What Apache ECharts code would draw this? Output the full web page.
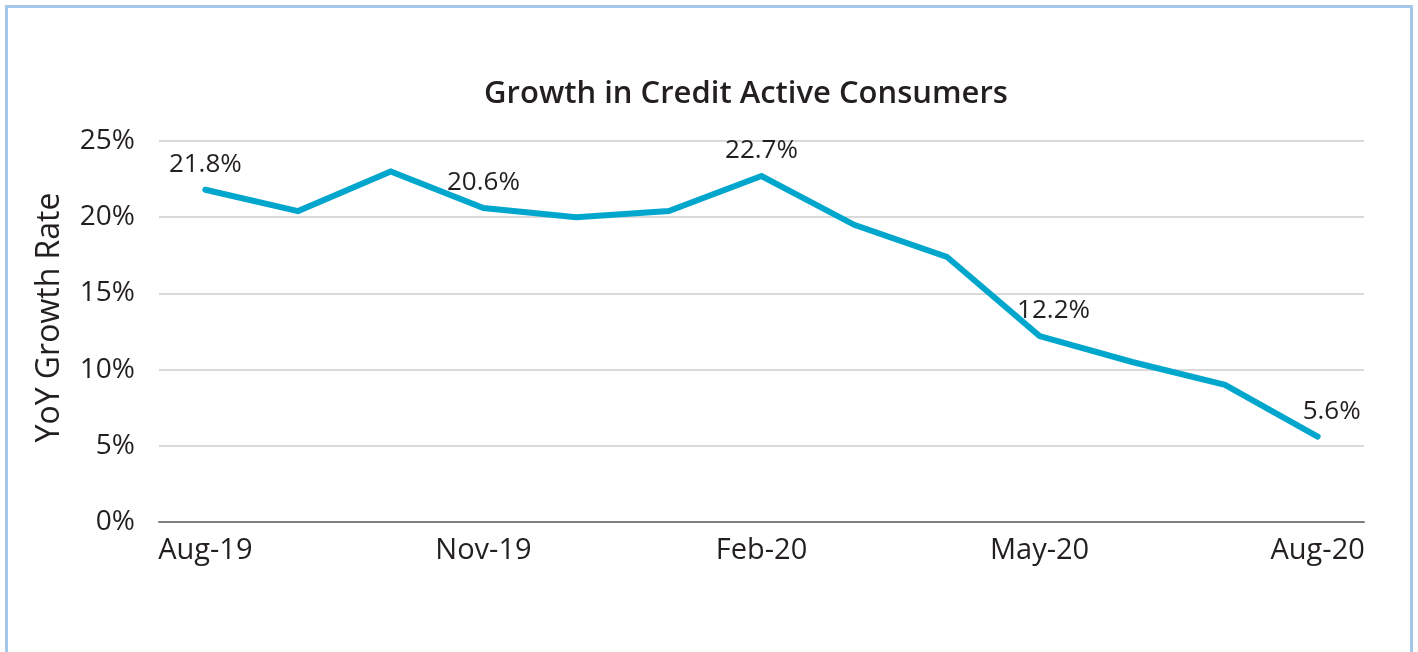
<!DOCTYPE html>
<html>
<head>
<meta charset="utf-8">
<title>Growth in Credit Active Consumers</title>
<script src="https://cdn.jsdelivr.net/npm/echarts@6/dist/echarts.min.js"></script>
<style>
  html, body { margin: 0; padding: 0; background: #ffffff; }
  #chart { width: 1418px; height: 652px; }
</style>
</head>
<body>
<div id="chart"></div>
<script>
// Monthly year-over-year growth in credit active consumers (%)
const months = ['Aug-19', 'Sep-19', 'Oct-19', 'Nov-19', 'Dec-19', 'Jan-20', 'Feb-20',
                'Mar-20', 'Apr-20', 'May-20', 'Jun-20', 'Jul-20', 'Aug-20'];
const growth = [21.8, 20.4, 23.0, 20.6, 20.0, 20.4, 22.7, 19.5, 17.4, 12.2, 10.5, 9.0, 5.6];
// Months whose value is printed above the line
const labelledMonths = ['Aug-19', 'Nov-19', 'Feb-20', 'May-20', 'Aug-20'];
const yTicks = [0, 5, 10, 15, 20, 25];

const FONT = '"Open Sans", sans-serif';
const TEXT = '#231f20';

const seriesData = growth.map((v, i) => {
  const shown = labelledMonths.includes(months[i]);
  const item = { value: v, label: { show: shown } };
  if (shown && i >= 9) item.label.offset = [14, 0];
  return item;
});

const chart = echarts.init(document.getElementById('chart'), null, { renderer: 'canvas' });
chart.setOption({
  animation: false,
  backgroundColor: '#ffffff',
  graphic: [{
    type: 'rect',
    shape: { x: 6.5, y: 6.5, width: 1405, height: 720 },
    style: { fill: 'none', stroke: '#a3c8e8', lineWidth: 3 },
    silent: true
  }],
  title: {
    text: 'Growth in Credit Active Consumers',
    left: 741,
    textAlign: 'center',
    top: 74,
    textStyle: { fontFamily: FONT, fontSize: 31, fontWeight: 600, color: TEXT }
  },
  grid: { left: 159, right: 54, top: 141, bottom: 130, containLabel: false },
  xAxis: {
    type: 'category',
    data: months,
    boundaryGap: true,
    axisLine: { show: true, lineStyle: { color: '#7f7f7f', width: 2 } },
    axisTick: { show: false },
    axisLabel: {
      interval: 2,
      margin: 14,
      fontFamily: FONT, fontSize: 29, color: TEXT
    },
    splitLine: { show: false }
  },
  yAxis: {
    type: 'value',
    min: yTicks[0],
    max: yTicks[yTicks.length - 1],
    interval: 5,
    name: 'YoY Growth Rate',
    nameLocation: 'middle',
    nameGap: 93,
    nameRotate: 90,
    nameTextStyle: { fontFamily: FONT, fontSize: 32, color: TEXT, padding: [0, 0, 0, 28] },
    axisLine: { show: false },
    axisTick: { show: false },
    axisLabel: {
      margin: 24,
      formatter: '{value}%',
      fontFamily: FONT, fontSize: 28, color: TEXT
    },
    splitLine: { show: true, lineStyle: { color: '#d9d9d9', width: 2 } }
  },
  series: [{
    type: 'line',
    data: seriesData,
    symbol: 'circle',
    symbolSize: 1,
    showSymbol: true,
    itemStyle: { color: 'rgba(0,0,0,0)' },
    lineStyle: { color: '#00a6cc', width: 6, cap: 'round', join: 'miter' },
    label: {
      position: 'top',
      distance: 12,
      formatter: p => p.value.toFixed(1) + '%',
      fontFamily: FONT, fontSize: 26, color: TEXT
    }
  }]
});
</script>
</body>
</html>
